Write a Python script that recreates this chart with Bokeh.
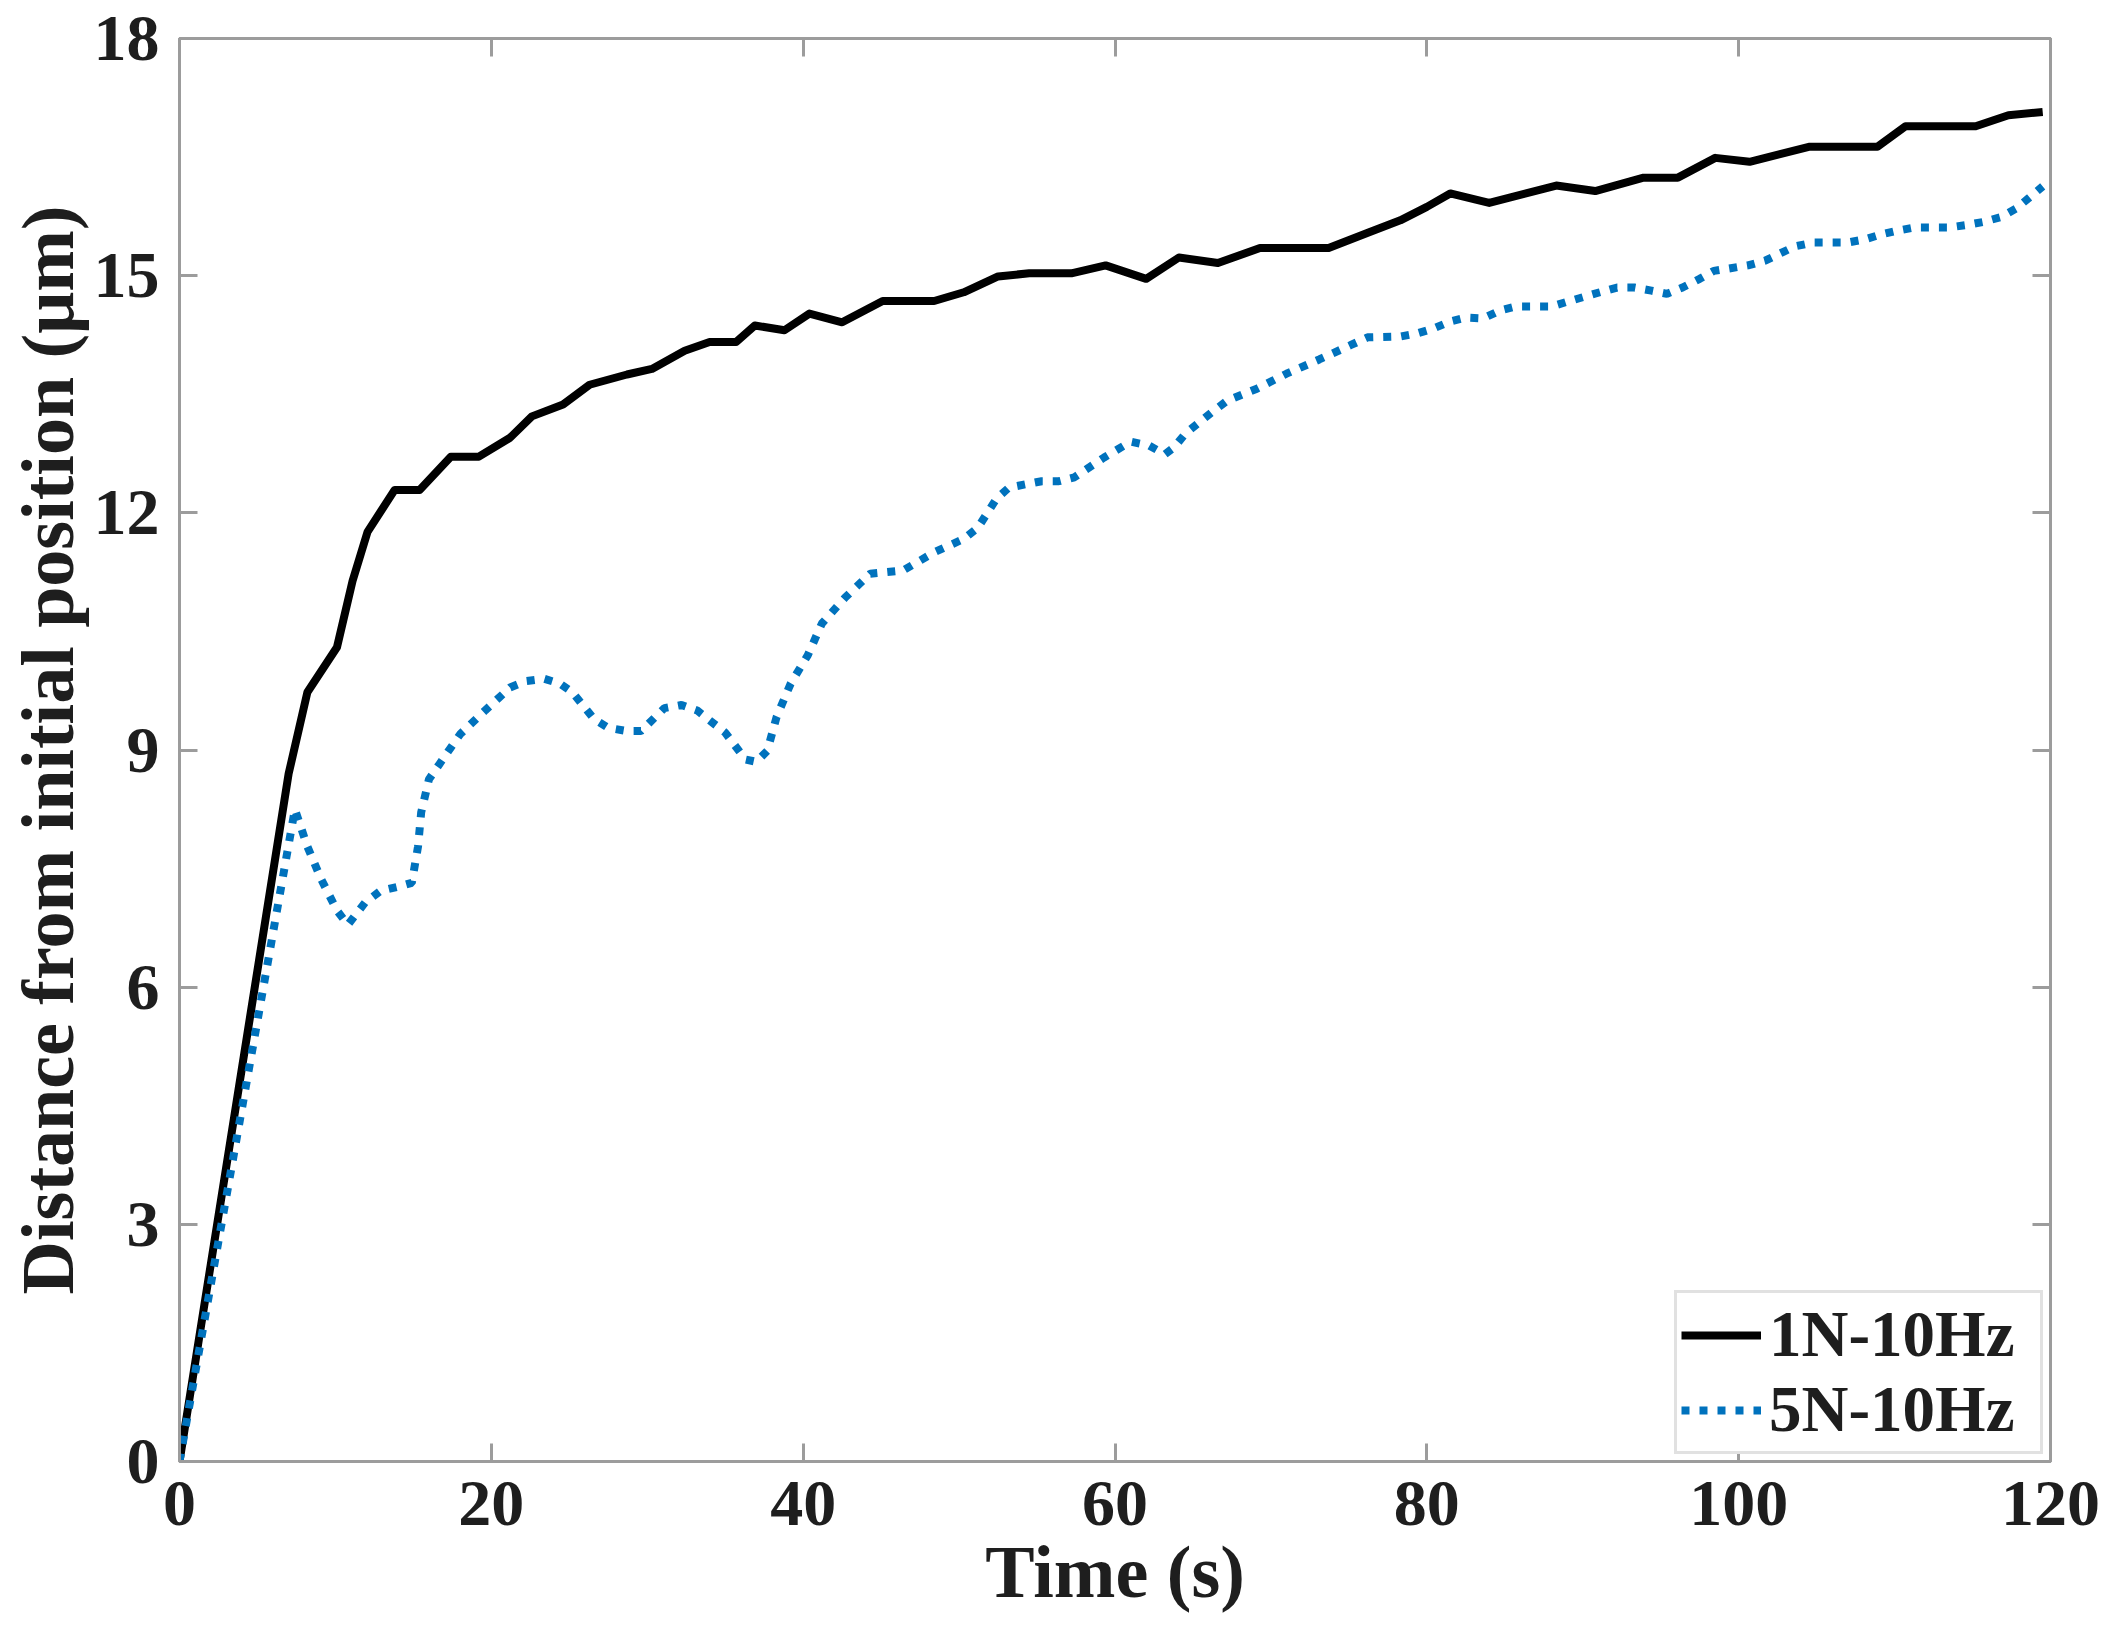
from bokeh.plotting import figure
from bokeh.models import (Range1d, LinearAxis, FixedTicker, Legend, LegendItem,
                          CustomLabelingPolicy)
from bokeh.embed import file_html
from bokeh.resources import INLINE

# ---- data ----
t_1n = [0, 7.0, 8.2, 10.1, 11.1, 12.06, 13.8, 15.4, 17.4, 19.2, 21.2, 22.6, 24.6, 26.3, 28.7,
        30.3, 32.4, 34.0, 35.7, 36.9, 38.8, 40.4, 42.5, 45.1, 48.4, 50.3, 52.5, 54.5, 57.2,
        59.4, 62.0, 64.1, 66.6, 69.3, 73.7, 76.3, 78.3, 80.0, 81.5, 84.0, 88.3, 90.8, 93.9,
        96.1, 98.5, 100.7, 104.5, 108.9, 110.7, 115.2, 117.3, 119.5]
d_1n = [0, 8.7, 9.73, 10.3, 11.14, 11.76, 12.29, 12.29, 12.71, 12.71, 12.95, 13.22, 13.37, 13.62,
        13.75, 13.82, 14.05, 14.16, 14.16, 14.37, 14.31, 14.52, 14.41, 14.68, 14.68, 14.79,
        14.99, 15.03, 15.03, 15.13, 14.96, 15.23, 15.16, 15.35, 15.35, 15.55, 15.7, 15.87,
        16.04, 15.92, 16.14, 16.07, 16.24, 16.24, 16.49, 16.44, 16.63, 16.63, 16.89, 16.89,
        17.03, 17.07]

t_5n = [0, 7.4, 8.2, 9.1, 10.1, 10.8, 11.9, 12.9, 14.0, 14.9, 15.3, 15.5, 16.0, 16.7, 18.0,
        19.6, 21.2, 22.2, 23.4, 24.4, 25.2, 26.6, 27.5, 28.7, 29.6, 31.1, 32.2, 33.2, 35.0,
        36.3, 37.0, 37.7, 38.3, 39.2, 40.3, 41.2, 42.7, 44.3, 46.4, 48.4, 50.3, 51.2, 52.4,
        53.2, 55.3, 56.4, 57.4, 59.3, 61.0, 62.2, 63.2, 63.8, 64.5, 66.2, 67.2, 69.1, 71.0,
        73.1, 75.1, 76.2, 78.3, 79.4, 80.4, 81.5, 82.5, 83.6, 84.7, 85.7, 88.0, 89.0, 91.1,
        92.2, 93.3, 94.4, 95.4, 96.4, 97.5, 98.4, 100.6, 101.7, 103.6, 104.8, 107.0, 108.1,
        109.1, 110.2, 111.3, 113.5, 114.6, 115.7, 116.8, 117.8, 118.6, 119.5]
d_5n = [0, 8.25, 7.78, 7.36, 6.97, 6.79, 7.07, 7.22, 7.27, 7.32, 7.78, 8.21, 8.63, 8.83, 9.2,
        9.5, 9.79, 9.87, 9.9, 9.84, 9.73, 9.39, 9.28, 9.24, 9.24, 9.53, 9.57, 9.5, 9.22, 8.88,
        8.85, 8.99, 9.42, 9.84, 10.2, 10.6, 10.93, 11.23, 11.27, 11.5, 11.67, 11.81, 12.18,
        12.32, 12.4, 12.4, 12.45, 12.7, 12.9, 12.85, 12.74, 12.83, 13.0, 13.27, 13.42, 13.57,
        13.76, 13.94, 14.12, 14.22, 14.23, 14.27, 14.33, 14.42, 14.47, 14.46, 14.56, 14.61,
        14.61, 14.67, 14.79, 14.85, 14.85, 14.81, 14.77, 14.85, 14.96, 15.06, 15.13, 15.19,
        15.37, 15.42, 15.42, 15.46, 15.52, 15.57, 15.61, 15.61, 15.64, 15.68, 15.74, 15.85,
        15.98, 16.13]

x_ticks = [0, 20, 40, 60, 80, 100, 120]
y_ticks = [0, 3, 6, 9, 12, 15, 18]
series_names = ["1N-10Hz", "5N-10Hz"]
x_label = "Time (s)"
y_label = "Distance from initial position (μm)"

FONT = "Liberation Serif"
AX_COLOR = "#9c9c9c"
TXT_COLOR = "#1e1e1e"

W, H = 2103, 1644
p = figure(width=W, height=H, x_range=Range1d(0, 120), y_range=Range1d(0, 18),
           output_backend="svg", toolbar_location=None,
           min_border_left=179, min_border_top=38, min_border_right=53, min_border_bottom=183,
           x_axis_label=x_label, y_axis_label=y_label)
p.grid.visible = False
p.outline_line_color = AX_COLOR
p.outline_line_width = 3
p.background_fill_color = "white"
p.border_fill_color = "white"

r1 = p.line(t_1n, d_1n, line_color="black", line_width=8, line_join="round")
r2 = p.line(t_5n, d_5n, line_color="#0072BD", line_width=8, line_dash="8 10", line_cap="butt")

HIDE_LABELS = CustomLabelingPolicy(code="""
for (const i of Array.from(indices)) { indices.unset(i) }
return indices
""")


def style_axis(ax, ticks, show_labels=True):
    ax.ticker = FixedTicker(ticks=ticks)
    ax.minor_tick_line_color = None
    ax.major_tick_in = 18
    ax.major_tick_out = 0
    ax.major_tick_line_color = AX_COLOR
    ax.major_tick_line_width = 3
    ax.axis_line_color = AX_COLOR
    ax.axis_line_width = 3
    ax.major_label_text_font = FONT
    ax.major_label_text_font_style = "bold"
    ax.major_label_text_color = TXT_COLOR
    if show_labels:
        ax.major_label_text_font_size = "66px"
        ax.major_label_standoff = 20
    else:
        ax.major_label_text_font_size = "1px"
        ax.major_label_policy = HIDE_LABELS
        ax.major_label_standoff = 0
    ax.axis_label_text_font = FONT
    ax.axis_label_text_font_style = "bold"
    ax.axis_label_text_font_size = "74px"
    ax.axis_label_text_color = TXT_COLOR
    ax.axis_label_standoff = 3


style_axis(p.xaxis[0], x_ticks)
style_axis(p.yaxis[0], y_ticks)
p.yaxis[0].axis_label_standoff = 2

top = LinearAxis()
style_axis(top, x_ticks, show_labels=False)
p.add_layout(top, "above")
right = LinearAxis()
style_axis(right, y_ticks, show_labels=False)
p.add_layout(right, "right")

legend = Legend(items=[LegendItem(label=series_names[0], renderers=[r1]),
                       LegendItem(label=series_names[1], renderers=[r2])])
legend.location = "bottom_right"
legend.margin = 7
legend.padding = 4
legend.spacing = 0
legend.glyph_width = 80
legend.glyph_height = 60
legend.label_height = 60
legend.label_width = 267
legend.label_standoff = 8
legend.label_text_font = FONT
legend.label_text_font_style = "bold"
legend.label_text_font_size = "65px"
legend.label_text_color = TXT_COLOR
legend.border_line_color = "#c4c4c4"
legend.border_line_width = 3
legend.background_fill_color = "white"
legend.background_fill_alpha = 1.0
p.add_layout(legend, "center")

open("out.html", "w").write(file_html(p, INLINE))
